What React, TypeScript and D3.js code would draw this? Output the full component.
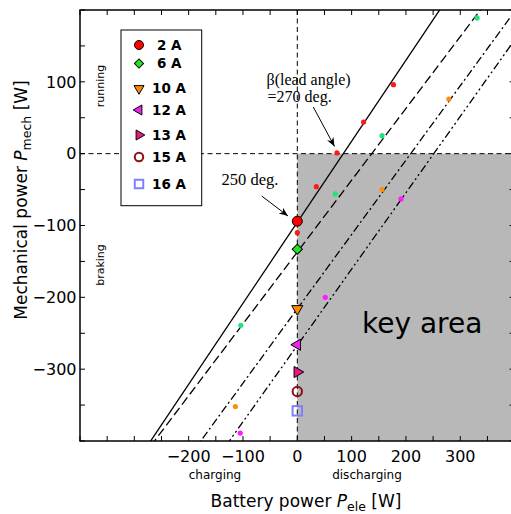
import React from 'react';
import * as d3 from 'd3';

// ---------- data ----------
const xDomain = [-400, 400];
const yDomain = [-400, 200];
const xTickValues = d3.range(-400, 401, 50);
const yTickValues = d3.range(-400, 201, 50);
const xLabelValues = [-200, -100, 0, 100, 200, 300];
const xTickLabels = ['\u2212200', '\u2212100', '0', '100', '200', '300'];
const yLabelValues = [100, 0, -100, -200, -300];
const yTickLabels = ['100', '0', '\u2212100', '\u2212200', '\u2212300'];

const seriesNames = ['2 A', '6 A', '10 A', '12 A', '13 A', '15 A', '16 A'];
const seriesColors = ['#ff0000', '#22e622', '#ff8800', '#ee22ee', '#e8187f', '#8b1010', '#8080ff'];
const seriesShapes = ['circle', 'diamond', 'triDown', 'triLeft', 'triRight', 'ring', 'square'];
const zeroPele = [0, 0, 0, 0, 0, 0, 0];
const zeroPmech = [-94, -133, -216, -266, -304, -331, -358];

// fitted lines (2 A, 6 A, 10 A, 12 A)
const fitSlopes = [1.128, 1.0, 1.035, 1.063];
const fitIntercepts = [-95.5, -137, -216, -267];
const fitDashes = ['', '9,4', '8,3,2,3', '8,3,2,3,2,3'];

// measured small points
const red_ele = [0, 35, 73, 122, 177];
const red_mech = [-110, -46, 1, 44, 96];
const green_ele = [-104, 70, 156, 331];
const green_mech = [-239, -56, 25, 189];
const orange_ele = [-114, 156, 279];
const orange_mech = [-352, -50, 76];
const magenta_ele = [-105, 51.5, 191];
const magenta_mech = [-389, -200, -63];
const dotGroups = [
  { ele: red_ele, mech: red_mech, color: '#ff1a1a' },
  { ele: green_ele, mech: green_mech, color: '#22e57a' },
  { ele: orange_ele, mech: orange_mech, color: '#ff8c10' },
  { ele: magenta_ele, mech: magenta_mech, color: '#ff1aff' },
];

// ---------- layout ----------
const W = 511, H = 514;
const L = 80, R = 514.6, T = 10, B = 441;
const legendRowY = [45, 63.5, 88.5, 110, 135, 157, 184];

const x = d3.scaleLinear().domain(xDomain).range([L, R]);
const y = d3.scaleLinear().domain(yDomain).range([B, T]);

const SANS = 'DejaVu Sans, Verdana, sans-serif';
const SERIF = 'Liberation Serif, Times New Roman, serif';

function Marker({ shape, cx, cy, color, s = 1 }: { shape: string; cx: number; cy: number; color: string; s?: number }) {
  const tri = d3.symbol().type(d3.symbolTriangle).size(54 * s * s)() as string;
  switch (shape) {
    case 'circle':
      return <circle cx={cx} cy={cy} r={5 * s} fill={color} stroke="#000" strokeWidth={1} />;
    case 'diamond': {
      const p = d3.symbol().type(d3.symbolSquare).size(52 * s * s)() as string;
      return <path d={p} transform={`translate(${cx},${cy}) rotate(45)`} fill={color} stroke="#000" strokeWidth={1} />;
    }
    case 'triDown':
      return <path d={tri} transform={`translate(${cx},${cy}) rotate(180)`} fill={color} stroke="#000" strokeWidth={1} />;
    case 'triLeft':
      return <path d={tri} transform={`translate(${cx},${cy}) rotate(-90)`} fill={color} stroke="#000" strokeWidth={1} />;
    case 'triRight':
      return <path d={tri} transform={`translate(${cx},${cy}) rotate(90)`} fill={color} stroke="#000" strokeWidth={1} />;
    case 'ring':
      return <circle cx={cx} cy={cy} r={4.7 * s} fill="none" stroke={color} strokeWidth={2} />;
    case 'square':
      return <rect x={cx - 4.7 * s} y={cy - 4.7 * s} width={9.4 * s} height={9.4 * s} fill="none" stroke={color} strokeWidth={2} />;
    default:
      return null;
  }
}

export default function App() {
  const line = d3.line<number>().x((d) => x(d[0])).y((d) => y(d[1]));
  const fitPaths = fitSlopes.map((m, i) => {
    const b = fitIntercepts[i];
    const pts: any = [xDomain[0], xDomain[1]].map((xv) => [xv, m * xv + b]);
    return line(pts) as string;
  });

  return (
    <svg width={W} height={H} style={{ position: 'absolute', left: 0, top: 0, background: '#fff' }}>
      <defs>
        <clipPath id="plotClip">
          <rect x={L} y={T} width={R - L} height={B - T} />
        </clipPath>
        <marker id="arr" viewBox="0 0 10 10" refX="10" refY="5" markerWidth="9" markerHeight="9" orient="auto" markerUnits="userSpaceOnUse">
          <path d="M0,1 L10,5 L0,9 L3,5 Z" fill="#000" />
        </marker>
      </defs>

      {/* key area */}
      <rect x={x(0)} y={y(0)} width={R - x(0)} height={B - y(0)} fill="#b8b8b8" />

      {/* zero lines */}
      <line x1={x(0)} x2={x(0)} y1={T} y2={B} stroke="#000" strokeWidth={1} strokeDasharray="5,3.5" />
      <line x1={L} x2={R} y1={y(0)} y2={y(0)} stroke="#000" strokeWidth={1} strokeDasharray="5,3.5" />

      {/* fitted lines */}
      <g clipPath="url(#plotClip)">
        {fitPaths.map((d, i) => (
          <path key={i} d={d} fill="none" stroke="#000" strokeWidth={1.3} strokeDasharray={fitDashes[i] || undefined} />
        ))}
      </g>

      {/* small dots */}
      {dotGroups.map((g, gi) =>
        g.ele.map((e, i) => <circle key={`${gi}-${i}`} cx={x(e)} cy={y(g.mech[i])} r={2.6} fill={g.color} />)
      )}

      {/* zero-Pele markers */}
      {seriesNames.map((n, i) => (
        <Marker key={n} shape={seriesShapes[i]} cx={x(zeroPele[i])} cy={y(zeroPmech[i])} color={seriesColors[i]} />
      ))}

      {/* key area label */}
      <text x={362} y={332.5} fontFamily={SANS} fontSize={28} fill="#000">key area</text>

      {/* frame */}
      <rect x={L} y={T} width={R - L} height={B - T} fill="none" stroke="#000" strokeWidth={1.5} />

      {/* ticks */}
      {xTickValues.map((v) => (
        <g key={'xt' + v}>
          <line x1={x(v)} x2={x(v)} y1={B} y2={B - 5} stroke="#000" strokeWidth={1} />
          <line x1={x(v)} x2={x(v)} y1={T} y2={T + 5} stroke="#000" strokeWidth={1} />
        </g>
      ))}
      {yTickValues.map((v) => (
        <g key={'yt' + v}>
          <line x1={L} x2={L + 5} y1={y(v)} y2={y(v)} stroke="#000" strokeWidth={1} />
          <line x1={R} x2={R - 5} y1={y(v)} y2={y(v)} stroke="#000" strokeWidth={1} />
        </g>
      ))}

      {/* tick labels */}
      {xLabelValues.map((v, i) => (
        <text key={'xl' + v} x={x(v)} y={461.5} textAnchor="middle" fontFamily={SANS} fontSize={16} fill="#000">
          {xTickLabels[i]}
        </text>
      ))}
      {yLabelValues.map((v, i) => (
        <text key={'yl' + v} x={76.5} y={y(v)} dy="0.36em" textAnchor="end" fontFamily={SANS} fontSize={16} fill="#000">
          {yTickLabels[i]}
        </text>
      ))}

      {/* axis titles */}
      <text x={306} y={507} textAnchor="middle" fontFamily={SANS} fontSize={17} fill="#000">
        Battery power <tspan fontStyle="italic">P</tspan>
        <tspan fontSize={12.5} dy={4}>ele</tspan>
        <tspan dy={-4}> [W]</tspan>
      </text>
      <text transform="translate(27,200) rotate(-90)" textAnchor="middle" fontFamily={SANS} fontSize={17} fill="#000">
        Mechanical power <tspan fontStyle="italic">P</tspan>
        <tspan fontSize={12.5} dy={4}>mech</tspan>
        <tspan dy={-4}> [W]</tspan>
      </text>

      {/* region labels */}
      <text x={215} y={479} textAnchor="middle" fontFamily={SANS} fontSize={12} fill="#000">charging</text>
      <text x={367} y={479} textAnchor="middle" fontFamily={SANS} fontSize={12} fill="#000">discharging</text>
      <text transform="translate(104,86) rotate(-90)" textAnchor="middle" fontFamily={SANS} fontSize={11} fill="#000">running</text>
      <text transform="translate(104,265) rotate(-90)" textAnchor="middle" fontFamily={SANS} fontSize={11} fill="#000">braking</text>

      {/* annotations */}
      <text x={266.5} y={85} fontFamily={SERIF} fontSize={16} fill="#000">β(lead angle)</text>
      <text x={267.5} y={102} fontFamily={SERIF} fontSize={16} fill="#000">=270 deg.</text>
      <line x1={313.3} y1={107} x2={334.5} y2={146.5} stroke="#000" strokeWidth={1} markerEnd="url(#arr)" />
      <text x={221.5} y={185} fontFamily={SERIF} fontSize={16.5} fill="#000">250 deg.</text>
      <line x1={261.7} y1={196} x2={288} y2={216} stroke="#000" strokeWidth={1} markerEnd="url(#arr)" />

      {/* legend */}
      <rect x={121} y={30} width={80.7} height={175.7} fill="#fff" stroke="#000" strokeWidth={1} />
      {seriesNames.map((n, i) => (
        <g key={'lg' + n}>
          <Marker shape={seriesShapes[i]} cx={139} cy={legendRowY[i]} color={seriesColors[i]} s={0.9} />
          <text x={n.length > 3 ? 152 : 157} y={legendRowY[i]} dy="0.36em" fontFamily={SANS} fontWeight="bold" fontSize={13.5} fill="#000">
            {n}
          </text>
        </g>
      ))}
    </svg>
  );
}
